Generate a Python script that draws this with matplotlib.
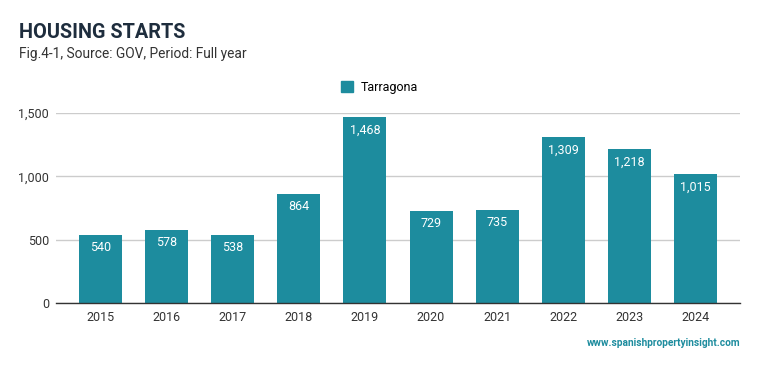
import matplotlib
matplotlib.use("Agg")
import matplotlib.pyplot as plt
from matplotlib.patches import Patch

years = ["2015", "2016", "2017", "2018", "2019", "2020", "2021", "2022", "2023", "2024"]
starts = [540, 578, 538, 864, 1468, 729, 735, 1309, 1218, 1015]
series_name = "Tarragona"

teal = "#1d8c9e"
plt.rcParams["font.family"] = ["Roboto", "DejaVu Sans"]

fig = plt.figure(figsize=(7.59, 3.71), dpi=100)
ax = fig.add_axes([0.0738, 0.1833, 0.901, 0.512])

x = range(len(years))
bars = ax.bar(x, starts, width=0.65, color=teal, zorder=3)

# value labels inside the top of each bar
for rect, v in zip(bars, starts):
    ax.annotate(f"{v:,}", (rect.get_x() + rect.get_width() / 2, v),
                xytext=(0, -9.4), textcoords="offset points",
                ha="center", va="center", color="white", fontsize=9)

ax.set_xlim(-0.67, 9.67)
ax.set_ylim(0, 1500)
ax.set_yticks([0, 500, 1000, 1500])
ax.set_yticklabels([f"{t:,}" for t in [0, 500, 1000, 1500]])
ax.set_xticks(list(x))
ax.set_xticklabels(years)
ax.grid(axis="y", color="#cccccc", linewidth=1, zorder=0)
ax.tick_params(length=0, labelsize=9, colors="#333333", pad=6)
ax.tick_params(axis="y", pad=5)
for s in ["top", "right", "left"]:
    ax.spines[s].set_visible(False)
ax.spines["bottom"].set_color("#333333")
ax.spines["bottom"].set_linewidth(1)
ax.spines["bottom"].set_zorder(4)

fig.text(0.025, 0.897, "HOUSING STARTS", fontsize=14.3, fontweight="bold", color="#1e2d3d")
fig.text(0.025, 0.843, "Fig.4-1, Source: GOV, Period: Full year", fontsize=9.9, color="#333333")

fig.legend(handles=[Patch(color=teal, label=series_name)], loc="center",
           bbox_to_anchor=(0.5, 0.765), frameon=False, fontsize=9,
           handlelength=1.0, handleheight=1.0, handletextpad=0.6)

fig.text(0.975, 0.067, "www.spanishpropertyinsight.com", fontsize=7.3, color=teal,
         ha="right", fontweight="bold")

fig.savefig("out.png", dpi=100)
